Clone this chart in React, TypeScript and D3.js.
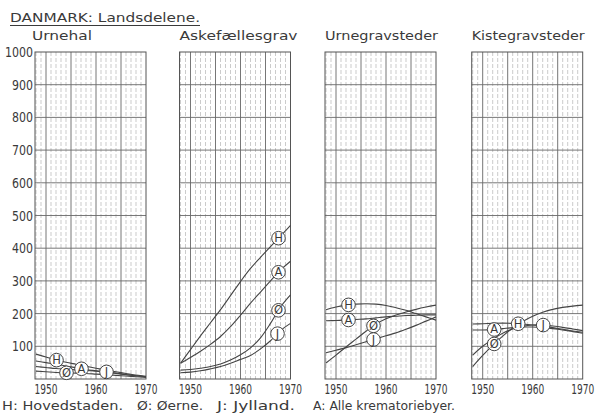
import * as d3 from 'd3'

// årstal (fælles for alle fire paneler)
const YEARS = [1948, 1950, 1952, 1954, 1956, 1958, 1960, 1962, 1964, 1966, 1968, 1970]
const Y_TICKS = [100, 200, 300, 400, 500, 600, 700, 800, 900, 1000]
const X_TICKS = [1950, 1960, 1970]
const PANEL_TITLES = ['Urnehal', 'Askefællesgrav', 'Urnegravsteder', 'Kistegravsteder']
const LEGEND = ['H: Hovedstaden.', 'Ø: Øerne.', 'J: Jylland.', 'A: Alle krematoriebyer.']

// Urnehal
const URNEHAL_H = [76, 67, 58, 51, 45, 39, 33, 27, 22, 17, 12, 8]
const URNEHAL_A = [55, 50, 45, 40, 34, 29, 25, 21, 17, 13, 10, 7]
const URNEHAL_J = [38, 35, 32, 30, 28, 26, 24, 22, 18, 14, 10, 7]
const URNEHAL_O = [24, 22, 20, 19, 18, 17, 15, 13, 11, 9, 7, 5]
const URNEHAL_MARKS: [string, number][] = [['H', 1952.1], ['Ø', 1954.1], ['A', 1957.1], ['J', 1962.1]]

// Askefællesgrav
const ASKE_H = [48, 90, 132, 172, 212, 255, 298, 338, 372, 405, 437, 470]
const ASKE_A = [48, 66, 85, 106, 130, 160, 195, 232, 266, 300, 333, 360]
const ASKE_J = [19, 21, 25, 31, 38, 48, 60, 72, 92, 117, 148, 170]
const ASKE_O = [27, 29, 33, 38, 46, 58, 74, 95, 126, 170, 220, 257]
const ASKE_MARKS: [string, number][] = [['H', 1967.6], ['A', 1967.6], ['Ø', 1967.6], ['J', 1967.4]]

// Urnegravsteder
const URNEGRAV_H = [212, 220, 226, 229, 230, 229, 225, 218, 210, 200, 190, 180]
const URNEGRAV_A = [178, 179, 180, 182, 184, 187, 190, 192, 194, 195, 196, 196]
const URNEGRAV_J = [80, 88, 96, 105, 114, 123, 132, 141, 152, 164, 177, 190]
const URNEGRAV_O = [49, 73, 98, 122, 146, 168, 184, 196, 205, 213, 220, 226]
const URNEGRAV_MARKS: [string, number][] = [['H', 1952.5], ['A', 1952.5], ['Ø', 1957.5], ['J', 1957.5]]

// Kistegravsteder
const KISTE_H = [168, 169, 170, 171, 170, 168, 165, 161, 157, 152, 147, 143]
const KISTE_A = [150, 150, 151, 154, 157, 159, 159, 157, 154, 150, 145, 140]
const KISTE_J = [73, 100, 122, 140, 153, 161, 165, 165, 162, 158, 153, 148]
const KISTE_O = [38, 72, 103, 131, 156, 176, 192, 204, 213, 219, 223, 226]
const KISTE_MARKS: [string, number][] = [['A', 1952.3], ['Ø', 1952.3], ['H', 1957.1], ['J', 1962.1]]

const PANELS = [
  { series: { H: URNEHAL_H, A: URNEHAL_A, J: URNEHAL_J, 'Ø': URNEHAL_O }, marks: URNEHAL_MARKS },
  { series: { H: ASKE_H, A: ASKE_A, J: ASKE_J, 'Ø': ASKE_O }, marks: ASKE_MARKS },
  { series: { H: URNEGRAV_H, A: URNEGRAV_A, J: URNEGRAV_J, 'Ø': URNEGRAV_O }, marks: URNEGRAV_MARKS },
  { series: { H: KISTE_H, A: KISTE_A, J: KISTE_J, 'Ø': KISTE_O }, marks: KISTE_MARKS },
]

const W = 601
const H = 417
const PANEL_LEFT = [35, 179.5, 325, 471.7]
const PANEL_W = 111
const TOP = 52
const BOTTOM = 379
const INK = '#3a3a3a'
const FONT = "'DejaVu Sans', sans-serif"
const NUM_FONT = "'DejaVu Sans Condensed', 'DejaVu Sans', sans-serif"
const LEGEND_X = [2, 137, 217, 313]
const LEGEND_W = [121, 66, 78, 142]

const yScale = d3.scaleLinear().domain([0, 1000]).range([BOTTOM, TOP])

function Panel({ idx }: { idx: number }) {
  const left = PANEL_LEFT[idx]
  const panel = PANELS[idx]
  const x = d3.scaleLinear().domain([1947.8, 1970]).range([left, left + PANEL_W])
  const years = d3.range(1948, 1970)
  const line = d3.line<number>()
    .x((_, i) => x(YEARS[i]))
    .y(d => yScale(d))
    .curve(d3.curveCatmullRom)
  const title = PANEL_TITLES[idx]

  return (
    <g>
      {/* lodrette gitterlinjer, en pr. år */}
      {years.map(yr => (
        <line key={'v' + yr} x1={x(yr)} x2={x(yr)} y1={TOP} y2={BOTTOM}
          stroke={yr % 5 === 0 ? '#666' : '#a8a8a8'}
          strokeWidth={yr % 5 === 0 ? 0.9 : 0.6}
          strokeDasharray={yr % 5 === 0 ? undefined : '4,2'} />
      ))}
      {Y_TICKS.slice(0, -1).map(t => (
        <line key={'h' + t} x1={left} x2={left + PANEL_W} y1={yScale(t)} y2={yScale(t)}
          stroke="#6a6a6a" strokeWidth={0.9} />
      ))}
      <rect x={left} y={TOP} width={PANEL_W} height={BOTTOM - TOP} fill="none" stroke="#555" strokeWidth={1} />

      {Object.entries(panel.series).map(([k, vals]) => (
        <path key={k} d={line(vals) ?? ''} fill="none" stroke="#444" strokeWidth={1.1} />
      ))}

      {panel.marks.map(([k, yr]) => {
        const vals = (panel.series as Record<string, number[]>)[k]
        const v = d3.scaleLinear().domain(YEARS).range(vals)(yr)
        const cx = x(yr)
        const cy = yScale(v)
        return (
          <g key={'m' + k}>
            <circle cx={cx} cy={cy} r={6.8} fill="#fff" stroke="#444" strokeWidth={1} />
            <text x={cx} y={cy + 4} textAnchor="middle" fontSize={11.5} fill={INK} fontFamily={FONT}>{k}</text>
          </g>
        )
      })}

      <text x={idx === 0 ? 32 : left} y={40} fontSize={12} fill={INK} fontFamily={FONT}
        textLength={[60, 118, 113, 113][idx]} lengthAdjust="spacingAndGlyphs">{title}</text>

      {X_TICKS.map(t => (
        <text key={'x' + t} x={x(t)} y={393.5} textAnchor="middle" fontSize={14} fill={INK} fontFamily={NUM_FONT}
          textLength={23} lengthAdjust="spacingAndGlyphs">{t}</text>
      ))}

      {idx === 0 && Y_TICKS.map(t => {
        const w = String(t).length * 7
        return (
          <text key={'y' + t} x={33} y={yScale(t) + 5} textAnchor="end" fontSize={14} fill={INK} fontFamily={NUM_FONT}
            textLength={w} lengthAdjust="spacingAndGlyphs">{t}</text>
        )
      })}
    </g>
  )
}

export default function App() {
  return (
    <svg width={W} height={H} style={{ position: 'absolute', left: 0, top: 0, background: '#fff' }}>
      <text x={10} y={22} fontSize={12} fill={INK} fontFamily={FONT}
        textLength={190} lengthAdjust="spacingAndGlyphs">DANMARK: Landsdelene.</text>
      <line x1={10} x2={200} y1={25.5} y2={25.5} stroke={INK} strokeWidth={1} />

      {PANELS.map((_, i) => <Panel key={i} idx={i} />)}

      {LEGEND.map((s, i) => (
        <text key={s} x={LEGEND_X[i]} y={410} fontSize={13} fill={INK} fontFamily={FONT}
          textLength={LEGEND_W[i]} lengthAdjust="spacingAndGlyphs">{s}</text>
      ))}
    </svg>
  )
}
